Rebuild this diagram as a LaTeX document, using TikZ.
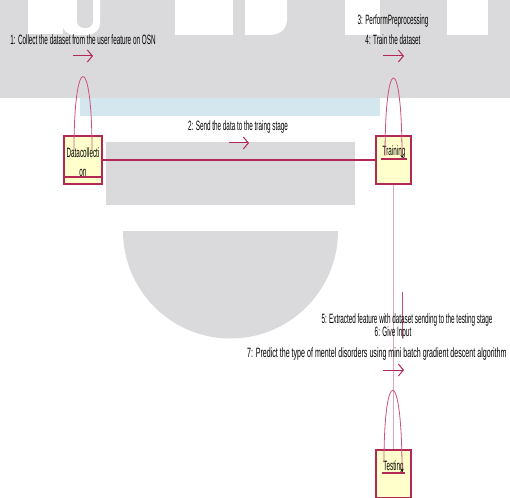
\documentclass[tikz,border=0pt]{standalone}
\usepackage{fontspec}
\newfontfamily\nf[FakeStretch=0.47]{Liberation Sans}
\usetikzlibrary{arrows.meta}
\definecolor{wmgrey}{RGB}{218,218,220}
\definecolor{wmblue}{RGB}{212,230,238}
\definecolor{crim}{RGB}{180,40,85}
\definecolor{pinkline}{RGB}{228,165,190}
\definecolor{loopc}{RGB}{205,80,125}
\definecolor{boxfill}{RGB}{255,255,204}
\begin{document}
\begin{tikzpicture}[x=1bp,y=-1bp,
  obj/.style={draw=crim, line width=1.2bp, fill=boxfill, minimum height=48bp, inner sep=0pt},
  lbl/.style={inner sep=0pt, font=\nf\fontsize{13.5bp}{15bp}\selectfont, text=black},
  msg/.style={draw=crim, line width=1bp, -{Straight Barb[length=5bp,width=12bp]}},
  link/.style={draw=crim, line width=1.3bp},
  life/.style={draw=pinkline, line width=1.6bp},
  selfloop/.style={draw=loopc, line width=0.8bp},
  uline/.style={draw=crim, line width=1.2bp},
]
\useasboundingbox (0,0) rectangle (510,498);
\begin{scope}
\clip (0,0) rectangle (510,498);
% watermark
\fill[wmgrey] (0,0) rectangle (510,98);
\fill[white] (28,-5) rectangle (63,34);
\fill[white, rounded corners=12bp] (62,-20) rectangle (100,35);
\fill[wmgrey, rounded corners=7bp] (77,-20) rectangle (93,28);
\fill[white] (175,-5) rectangle (233,35);
\fill[white] (245,0) -- (287,0) -- (287,18) .. controls (287,30) and (280,35) .. (268,35) -- (245,35) -- cycle;
\fill[white] (345,-5) rectangle (380,35);
\fill[white] (447,-5) rectangle (488,35);
\fill[wmblue] (80,98) rectangle (380,116);
\fill[wmgrey] (106,142) rectangle (355,205);
\fill[wmgrey] (123,231) arc[start angle=180, end angle=0, radius=107.5] -- cycle;
\end{scope}

% objects
\node[obj, minimum width=38bp] (dc) at (83,160) {};
\node[obj, minimum width=35bp] (tr) at (393.5,160) {};
\node[obj, minimum width=35bp] (te) at (393.5,474) {};

% connectors
\draw[link] (dc.east) -- (tr.west);
\draw[life] (tr.south) -- (te.north);
\coordinate (stubA) at (402,292);
\coordinate (stubB) at (402,338);
\draw[draw=loopc, line width=0.7bp] (stubA) -- (stubB);

% box texts
\node[lbl, align=center] (dct) at (83,162.5) {Datacollecti\\[4bp]on};
\node[lbl] (trt) at (394,152) {Training};
\node[lbl] (tet) at (393.5,467) {Testing};
\coordinate (dcu1) at (64,177); \coordinate (dcu2) at (102,177);
\coordinate (tru1) at (381,159); \coordinate (tru2) at (407,159);
\coordinate (teu1) at (382,473); \coordinate (teu2) at (405,473);
\draw[uline] (dcu1) -- (dcu2);
\draw[uline] (tru1) -- (tru2);
\draw[uline] (teu1) -- (teu2);

% self loops
\coordinate (dcl) at (74,150); \coordinate (dcr) at (92,150);
\draw[selfloop] (dcl) .. controls (74,52) and (92,52) .. (dcr);
\coordinate (trl) at (385,156); \coordinate (trr) at (402,158);
\draw[selfloop, -{Stealth[length=3bp,width=3bp,black]}] (trl) .. controls (385,52) and (402,52) .. (trr);
\coordinate (tel) at (384,462); \coordinate (ter) at (402,472);
\draw[selfloop, -{Stealth[length=3bp,width=3bp,black]}] (tel) .. controls (384,365) and (402,365) .. (ter);

% message arrows
\coordinate (m1a) at (73,56); \coordinate (m1b) at (93,56);
\draw[msg] (m1a) -- (m1b);
\coordinate (m2a) at (229,143); \coordinate (m2b) at (249,143);
\draw[msg] (m2a) -- (m2b);
\coordinate (m3a) at (383,56); \coordinate (m3b) at (404,56);
\draw[msg] (m3a) -- (m3b);
\coordinate (m7a) at (383,370); \coordinate (m7b) at (404,370);
\draw[msg] (m7a) -- (m7b);

% labels
\node[lbl] (l1) at (83,40) {1: Collect the dataset from the user feature on OSN};
\node[lbl] (l2) at (238,127) {2: Send the data to the traing stage};
\node[lbl] (l3) at (393,21) {3: PerformPreprocessing};
\node[lbl] (l4) at (393,40) {4: Train the dataset};
\node[lbl] (l5) at (407,320) {5: Extracted feature with dataset sending to the testing stage};
\node[lbl] (l6) at (393,333) {6: Give Input};
\node[lbl, anchor=west] (l7) at (247,354) {\scalebox{1.12}[1]{7: Predict the type of mentel disorders using mini batch gradient descent algorithm}};
\end{tikzpicture}
\end{document}
